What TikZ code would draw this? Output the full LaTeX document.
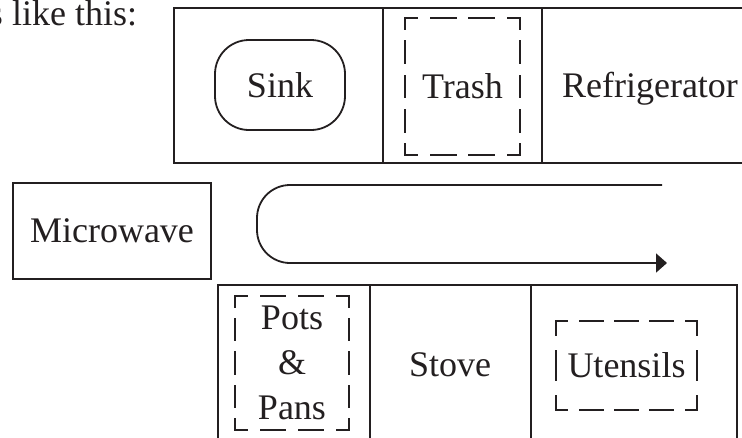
\documentclass[tikz,border=0pt]{standalone}
\usepackage{fontspec}
\setmainfont{Liberation Serif}
\usetikzlibrary{arrows.meta}
\definecolor{ink}{RGB}{35,31,32}

% dashed edge of length #1 with #2 whole dashes between two corner halves
\tikzset{edgedash/.code 2 args={%
  \pgfmathsetmacro\edgeperiod{#1/(#2+1)}%
  \pgfmathsetmacro\edgeon{0.64*\edgeperiod}%
  \pgfmathsetmacro\edgeoff{0.36*\edgeperiod}%
  \pgfmathsetmacro\edgephase{0.32*\edgeperiod}%
  \tikzset{dash pattern=on \edgeon pt off \edgeoff pt,dash phase=\edgephase pt}}}

% frame a node (#1, #2 x #3) with dashed sides: #4 dashes across, #5 down
\newcommand\dashframe[5]{%
  \draw[dashline,edgedash={#2}{#4}] (#1.north west) -- (#1.north east);
  \draw[dashline,edgedash={#2}{#4}] (#1.south west) -- (#1.south east);
  \draw[dashline,edgedash={#3}{#5}] (#1.north west) -- (#1.south west);
  \draw[dashline,edgedash={#3}{#5}] (#1.north east) -- (#1.south east);}

\begin{document}
\begin{tikzpicture}[x=1pt,y=-1pt,
    every node/.style={inner sep=0pt,outer sep=0pt,text=ink,
      font=\fontsize{36}{45}\selectfont},
    wall/.style={draw=ink,line width=1.8pt},
    solidbox/.style={draw=ink,line width=1.8pt,rectangle},
    roundbox/.style={draw=ink,line width=1.8pt,rectangle,rounded corners=34pt},
    bin/.style={rectangle},
    dashline/.style={draw=ink,line width=2pt,line cap=rect},
    route/.style={draw=ink,line width=1.8pt,rounded corners=33pt,
      -{Triangle[length=11pt,width=19pt]}}]
  \useasboundingbox (0,0) rectangle (742,437);
  \clip (0,0) rectangle (742,437);

  % end of the sentence that introduces the layout
  \node[anchor=base west] (intro) at (-11,25) {s like this:};

  % upper counter: sink, trash, refrigerator (open to the right)
  \draw[wall] (742,8) -- (174,8) -- (174,163) -- (742,163);
  \draw[wall] (383,8) -- (383,163);
  \draw[wall] (542,8) -- (542,163);
  \node[roundbox,minimum width=130pt,minimum height=90pt] (sink) at (280,85) {Sink};
  \node[bin,minimum width=115pt,minimum height=137pt] (trash) at (462.5,86.5) {Trash};
  \dashframe{trash}{115}{137}{2}{3}
  \node[anchor=base] (fridge) at (650,97) {Refrigerator};

  % microwave on its own
  \node[solidbox,minimum width=198pt,minimum height=96pt] (micro) at (112,231) {Microwave};

  % walking route between the counters
  \coordinate (routestart) at (662,185);
  \coordinate (routeend) at (667,263);
  \draw[route] (routestart) -- (257,185) -- (257,263) -- (routeend);

  % lower counter: pots & pans, stove, utensils (open at the bottom)
  \draw[wall] (218,445) -- (218,285) -- (737,285) -- (737,445);
  \draw[wall] (370,285) -- (370,445);
  \draw[wall] (531,285) -- (531,445);
  \node[bin,minimum width=114pt,minimum height=134pt,align=center] (pots) at (292,363) {Pots\\\&\\Pans};
  \dashframe{pots}{114}{134}{2}{3}
  \node (stove) at (450,365) {Stove};
  \node[bin,minimum width=141pt,minimum height=89pt] (utensils) at (626.5,365.5) {Utensils};
  \dashframe{utensils}{141}{89}{3}{1}
\end{tikzpicture}
\end{document}
